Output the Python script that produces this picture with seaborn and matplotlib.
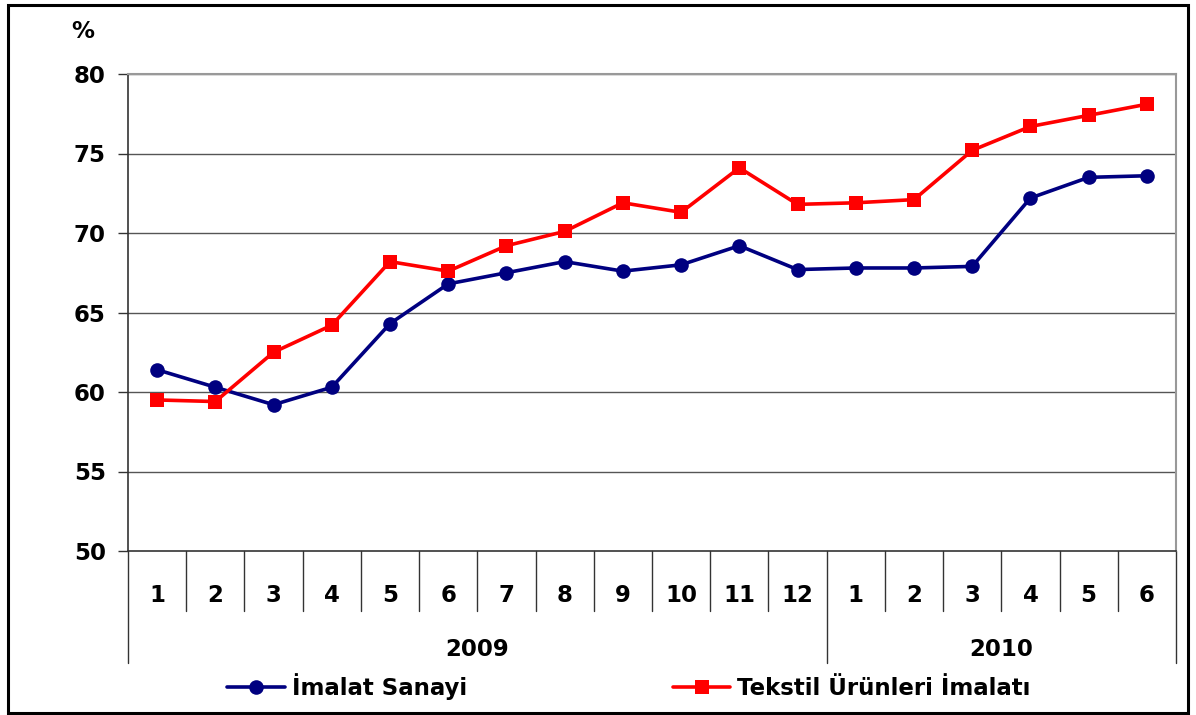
import matplotlib
matplotlib.use("Agg")
import matplotlib.pyplot as plt
import matplotlib.transforms as mtransforms
from matplotlib.patches import Rectangle
import seaborn as sns
import pandas as pd

months = ["1", "2", "3", "4", "5", "6", "7", "8", "9", "10", "11", "12",
          "1", "2", "3", "4", "5", "6"]
years = ["2009", "2010"]
year_counts = [12, 6]
imalat = [61.4, 60.3, 59.2, 60.3, 64.3, 66.8, 67.5, 68.2, 67.6, 68.0, 69.2, 67.7,
          67.8, 67.8, 67.9, 72.2, 73.5, 73.6]
tekstil = [59.5, 59.4, 62.5, 64.2, 68.2, 67.6, 69.2, 70.1, 71.9, 71.3, 74.1, 71.8,
           71.9, 72.1, 75.2, 76.7, 77.4, 78.1]
series_names = ["İmalat Sanayi", "Tekstil Ürünleri İmalatı"]
yticks = [50, 55, 60, 65, 70, 75, 80]

sns.set_style("white")
plt.rcParams['font.family'] = ['DejaVu Sans']
plt.rcParams['font.weight'] = 'bold'
plt.rcParams['text.color'] = 'black'
plt.rcParams['xtick.color'] = 'black'
plt.rcParams['ytick.color'] = 'black'
FS = 16.5

df = pd.DataFrame({
    "pos": list(range(len(months))) * 2,
    "value": imalat + tekstil,
    "series": [series_names[0]] * len(imalat) + [series_names[1]] * len(tekstil),
})

fig = plt.figure(figsize=(11.96, 7.15), dpi=100)
ax = fig.add_axes([128/1196, 1 - 551/715, (1176-128)/1196, (551-74)/715])

sns.lineplot(data=df, x="pos", y="value", hue="series", style="series",
             palette={series_names[0]: "#000080", series_names[1]: "#FF0000"},
             markers={series_names[0]: "o", series_names[1]: "s"},
             dashes=False, linewidth=2.6, markersize=10.5, markeredgewidth=0,
             ax=ax, legend=True)

ax.set_xlim(-0.5, len(months) - 0.5)
ax.set_ylim(50, 80)
ax.set_yticks(yticks)
ax.set_yticklabels([str(t) for t in yticks], fontsize=FS, fontweight='bold')
for t in yticks[1:]:
    ax.axhline(t, color="#555555", linewidth=1.0, zorder=0)

ax.set_xticks(range(len(months)))
ax.set_xticklabels(months, fontsize=FS, fontweight='bold')
ax.tick_params(axis='x', length=0, pad=23.5)
ax.tick_params(axis='y', length=7, width=1, color="#333333", direction='out', pad=9, left=True)
ax.set_xlabel("")
ax.set_ylabel("")

for side in ["top", "right"]:
    ax.spines[side].set_color("#999999")
    ax.spines[side].set_linewidth(1.5)
ax.spines["left"].set_color("#333333")
ax.spines["bottom"].set_color("#333333")
ax.spines["left"].set_linewidth(1.2)
ax.spines["bottom"].set_linewidth(1.2)

trans = mtransforms.blended_transform_factory(ax.transData, ax.transAxes)
h_ax = 551 - 74
short = -(611 - 551) / h_ax
long_ = -(663 - 551) / h_ax
boundaries = [-0.5]
acc = -0.5
for c in year_counts:
    acc += c
    boundaries.append(acc)
for k in range(1, len(months)):
    b = k - 0.5
    if b in boundaries:
        continue
    ax.plot([b, b], [0, short], color="#333333", linewidth=1.0, transform=trans, clip_on=False)
for b in boundaries:
    ax.plot([b, b], [0, long_], color="#333333", linewidth=1.0, transform=trans, clip_on=False)

start = -0.5
for y, c in zip(years, year_counts):
    ax.text(start + c / 2, -(650 - 551) / h_ax, y, transform=trans, ha='center', va='center',
            fontsize=FS, fontweight='bold')
    start += c

fig.text(83/1196, 1 - 32/715, "%", ha='center', va='center', fontsize=FS, fontweight='bold')

handles, labels = ax.get_legend_handles_labels()
ax.get_legend().remove()
fig.legend(handles, labels, loc='center', bbox_to_anchor=(629/1196, 1 - 687/715), ncol=2,
           frameon=False, prop={'weight': 'bold', 'size': FS},
           handlelength=2.5, handletextpad=0.3, columnspacing=9.0, borderaxespad=0)

fig.patches.append(Rectangle((8/1196, 2/715), (1188-8)/1196, (712-4)/715, transform=fig.transFigure,
                             fill=False, edgecolor='black', linewidth=2.2))

fig.savefig("out.png", dpi=100, facecolor="white")
